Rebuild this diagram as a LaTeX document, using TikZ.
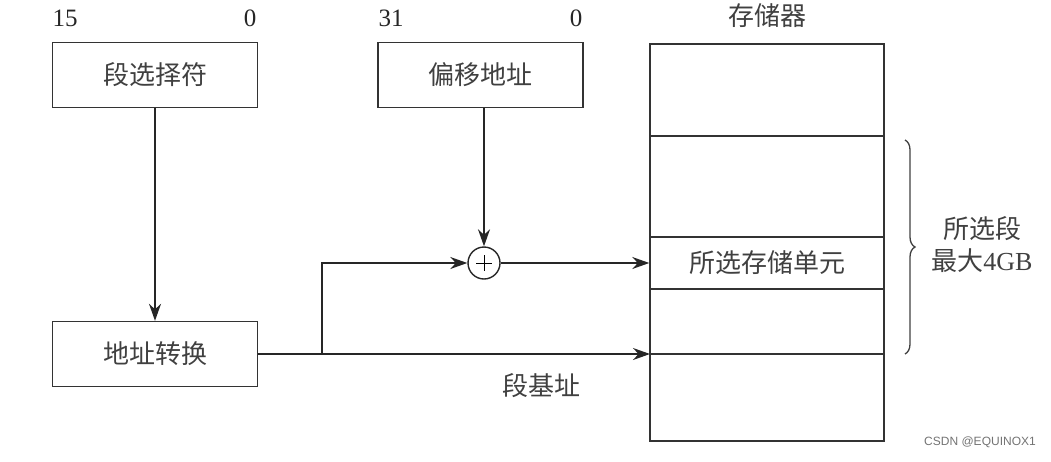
\documentclass[tikz,border=0pt]{standalone}
\usepackage{fontspec}
\setmainfont{Liberation Serif}
\newfontfamily\cjk{Noto Sans CJK SC}
\newfontfamily\wmfont{Liberation Sans}
\usetikzlibrary{arrows.meta,decorations.pathreplacing}

\begin{document}
\begin{tikzpicture}[x=1pt,y=-1pt,line width=1.4pt,
    >={Stealth[length=17pt,width=12pt]},
    lbl/.style={font=\cjk\fontsize{26}{32}\selectfont,text=black!75,inner sep=0pt},
    num/.style={font=\fontsize{25}{30}\selectfont,text=black!85,inner sep=0pt},
    box/.style={draw=black!80,lbl,minimum width=205pt,minimum height=65pt}]
    \useasboundingbox (0,0) rectangle (1051,461);

    % registers
    \node[box] (sel) at (155,75) {段选择符};
    \node[box] (off) at (480.5,75) {偏移地址};
    \node[box] (conv) at (155,354) {地址转换};
    \node[num,anchor=base west] (selhi) at (52,26) {15};
    \node[num,anchor=base east] (sello) at (257,26) {0};
    \node[num,anchor=base west] (offhi) at (378,26) {31};
    \node[num,anchor=base east] (offlo) at (583,26) {0};

    % memory
    \node[draw=black!80,minimum width=234pt,minimum height=397pt,inner sep=0pt] (mem) at (767,242.5) {};
    \foreach \y in {136,237,289,354}
        \draw[black!80] (650,\y) -- (884,\y);
    \node[lbl] (memname) at (767,16) {存储器};
    \node[lbl] (cell) at (767,263) {所选存储单元};

    % adder
    \node[draw=black!85,circle,minimum size=32pt,inner sep=0pt] (plus) at (484,263) {};
    \draw[line width=0.8pt] (476,263) -- (492,263);
    \draw[line width=0.8pt] (484,255) -- (484,271);

    % connectors
    \coordinate (split) at (322,354);
    \coordinate (base) at (650,354);
    \draw[->,black!85] (sel) -- (conv);
    \draw[->,black!85] (plus |- off.south) -- (plus.north);
    \draw[->,black!85] (conv.east) -- (base);
    \draw[->,black!85] (split) |- (plus.west);
    \draw[->,black!85] (plus.east) -- (mem.west |- plus);
    \node[lbl] (baselbl) at (541,386) {段基址};

    % segment
    \draw[decorate,decoration={brace,amplitude=10pt},line width=1.3pt,black!75] (905,140) -- (905,354);
    \node[lbl,align=center] (seglbl) at (982,245) {所选段\\最大{\rmfamily 4GB}};

    \node[font=\wmfont\fontsize{12}{14}\selectfont,text=black!55] (wm) at (980,442) {CSDN @EQUINOX1};
\end{tikzpicture}
\end{document}
